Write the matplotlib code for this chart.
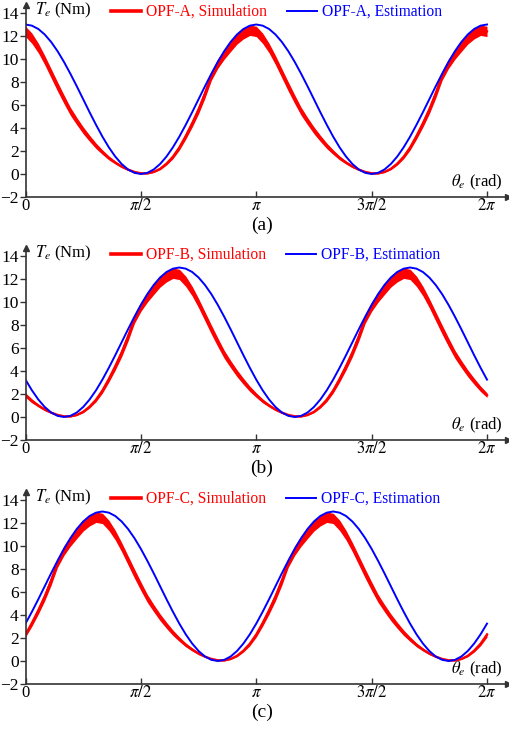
import numpy as np
import matplotlib
matplotlib.use("Agg")
import matplotlib.pyplot as plt

plt.rcParams['font.family'] = ['Liberation Serif', 'DejaVu Serif']
plt.rcParams['mathtext.fontset'] = 'stix'

# one electrical period of the phase torque, sampled every 5 deg from the estimated peak
step_deg = 5
est_profile = [13.0, 12.9, 12.61, 12.13, 11.48, 10.68, 9.75, 8.72, 7.63, 6.5, 5.37, 4.28,
               3.25, 2.32, 1.52, 0.87, 0.39, 0.1, 0.0, 0.1, 0.39, 0.87, 1.52, 2.32,
               3.25, 4.28, 5.37, 6.5, 7.63, 8.72, 9.75, 10.68, 11.48, 12.13, 12.61, 12.9]
sim_profile = [12.4, 11.8, 10.95, 9.9, 8.75, 7.6, 6.5, 5.45, 4.6, 3.8, 3.1, 2.45,
               1.9, 1.4, 1.0, 0.65, 0.38, 0.18, 0.06, 0.05, 0.18, 0.45, 0.9, 1.5,
               2.3, 3.3, 4.4, 5.6, 7.0, 8.55, 9.6, 10.4, 11.1, 11.75, 12.2, 12.5]
# half width of the switching ripple band on the simulated torque (Nm)
sim_ripple = [0.45, 0.45, 0.42, 0.4, 0.4, 0.4, 0.38, 0.35, 0.32, 0.3, 0.27, 0.24,
              0.2, 0.17, 0.13, 0.1, 0.07, 0.05, 0.04, 0.04, 0.05, 0.08, 0.12, 0.17,
              0.22, 0.27, 0.32, 0.36, 0.4, 0.4, 0.42, 0.42, 0.45, 0.45, 0.45, 0.45]

phases = ['A', 'B', 'C']
phase_shift_deg = [0, 120, 60]
panel_tags = ['(a)', '(b)', '(c)']

xtick_vals = [0, np.pi / 2, np.pi, 3 * np.pi / 2, 2 * np.pi]
xtick_labels = ['0', r'$\pi/2$', r'$\pi$', r'$3\pi/2$', r'$2\pi$']
ytick_vals = [-2, 0, 2, 4, 6, 8, 10, 12, 14]

W, H = 509, 732
fig = plt.figure(figsize=(W / 100, H / 100), dpi=100)

def fx(x):
    return x / W

def fy(y):
    return 1 - y / H

deg = np.arange(0, 361, step_deg)
theta = np.deg2rad(deg)

x_left = 25.5
px_per_rad = 461.5 / (2 * np.pi)
x_end = 508
px_per_nm = 11.5
ymax = 14.7
axis_bottoms = [197, 440, 684]

red = '#ff0000'
blue = '#0000ff'
axc = '#333333'
fs = 12

for i, ph in enumerate(phases):
    yb = axis_bottoms[i]
    h = (ymax + 2) * px_per_nm
    ax = fig.add_axes([fx(x_left), fy(yb), (x_end - x_left) / W, h / H])
    ax.set_xlim(0, (x_end - x_left) / px_per_rad)
    ax.set_ylim(-2, ymax)

    idx = ((deg - phase_shift_deg[i]) % 180) // step_deg
    est = np.array(est_profile)[idx]
    sim = np.array(sim_profile)[idx]
    rip = np.array(sim_ripple)[idx]

    ax.fill_between(theta, sim - rip, sim + rip, color=red, lw=0)
    l1, = ax.plot(theta, sim, color=red, lw=1.7, label=f'OPF-{ph}, Simulation')
    l2, = ax.plot(theta, est, color=blue, lw=1.4, label=f'OPF-{ph}, Estimation')

    for s in ['top', 'right']:
        ax.spines[s].set_visible(False)
    for s in ['left', 'bottom']:
        ax.spines[s].set_color(axc)
        ax.spines[s].set_linewidth(1.2)
    ax.plot(1, 0, '>', color=axc, ms=5, transform=ax.transAxes, clip_on=False)
    ax.plot(0, 1, '^', color=axc, ms=5, transform=ax.transAxes, clip_on=False)

    ax.set_xticks(xtick_vals)
    ax.set_xticklabels(xtick_labels)
    ax.set_yticks(ytick_vals)
    ax.tick_params(axis='x', direction='in', length=4, width=1, color=axc,
                   labelsize=fs, pad=1)
    ax.tick_params(axis='y', direction='out', length=4, width=1, color=axc,
                   labelsize=12.5, pad=1)

    ax.text(0.99, 0.025, r'$\theta_e$ (rad)', transform=ax.transAxes,
            ha='right', va='bottom', fontsize=fs)
    fig.text(fx(35), fy(yb - 187), r'$T_e$ (Nm)', ha='left', va='center', fontsize=fs)

    leg = ax.legend(handles=[l1, l2], ncol=2, frameon=False, loc='center left',
                    bbox_to_anchor=(fx(111), fy(yb - 185)), bbox_transform=fig.transFigure,
                    handlelength=1.9, handletextpad=0.35, columnspacing=1.3,
                    labelcolor='linecolor', fontsize=11.2, borderpad=0, borderaxespad=0)
    leg.legend_handles[0].set_linewidth(2.6)

    fig.text(fx(262), fy(yb + 28), panel_tags[i], ha='center', va='center', fontsize=14)

fig.savefig('out.png', dpi=100)
